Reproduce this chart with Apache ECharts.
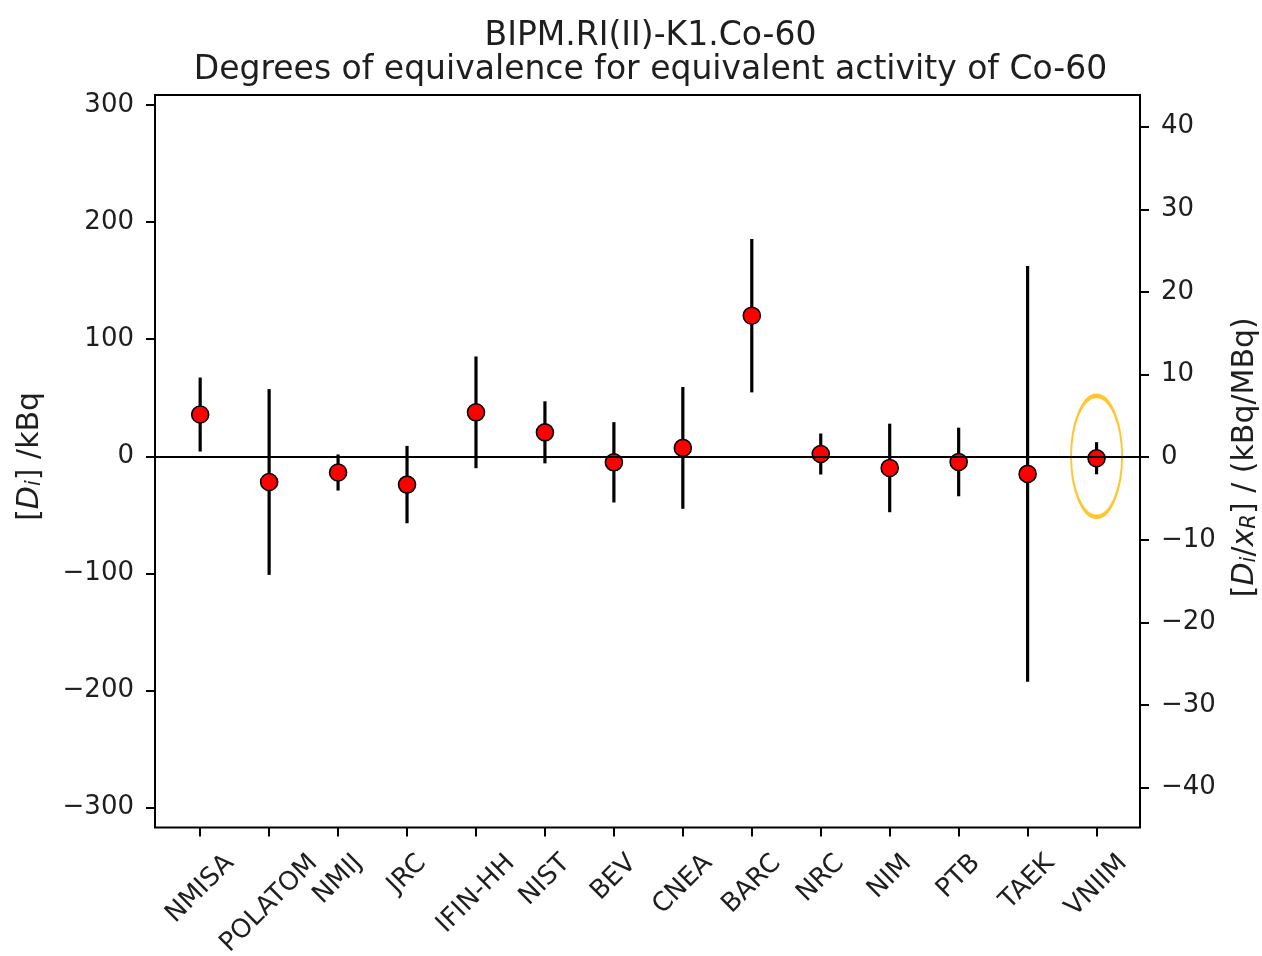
<!DOCTYPE html>
<html>
<head>
<meta charset="utf-8">
<script src="https://cdn.jsdelivr.net/npm/echarts@6/dist/echarts.min.js"></script>
<style>
  html, body { margin: 0; padding: 0; background: #fff; }
  #chart { width: 1262px; height: 956px; }
</style>
</head>
<body>
<div id="chart"></div>
<script>
// labs and their degrees of equivalence (kBq) with expanded uncertainty
const labs = ['NMISA', 'POLATOM', 'NMIJ', 'JRC', 'IFIN-HH', 'NIST', 'BEV', 'CNEA', 'BARC', 'NRC', 'NIM', 'PTB', 'TAEK', 'VNIIM'];
const di = [35.7, -21.9, -13.8, -24.1, 37.6, 20.5, -5.1, 7.2, 120.1, 2.0, -9.9, -4.8, -15.0, -1.6];
const ui = [31.6, 79.3, 15.4, 33.0, 47.7, 26.5, 34.3, 52.0, 65.5, 17.5, 37.8, 29.3, 177.5, 13.7];
const circled = [[13, 0]]; // VNIIM highlight
const leftRange = [-300, 300, 100];  // kBq ticks
const rightRange = [-40, 40, 10];    // kBq/MBq ticks

const FONT = 'DejaVu Sans';
const TXT = '#1e1e1e';
const W = 1262, H = 956;
// axes frame in pixels
const fL = 155, fR = 1140, fT = 95, fB = 827.5;
const xMin = -0.655, xMax = labs.length - 1 + 0.63;
const step = (fR - fL) / (xMax - xMin);

const minus = v => (v < 0 ? '\u2212' + Math.abs(v) : String(v));

// rotated category labels centred under their tick (matplotlib style)
const LAB_FS = 26;
const ctx = document.createElement('canvas').getContext('2d');
ctx.font = LAB_FS + 'px "' + FONT + '"';
const labRich = {};
labs.forEach((s, i) => {
  const a = (ctx.measureText(s).width + LAB_FS * 1.16) / 4;
  labRich['c' + i] = { fontSize: LAB_FS, fontFamily: FONT, color: TXT, padding: [2 * a, 2 * a, 0, 0] };
});

const tickStyle = { color: '#000', width: 2 };
const nameRich = {
  it: { fontStyle: 'italic', fontSize: 30, fontFamily: FONT, color: TXT },
  sub: { fontStyle: 'italic', fontSize: 21, fontFamily: FONT, color: TXT, verticalAlign: 'bottom', padding: [8, 0, 0, 0] }
};
const gridBase = { left: fL, right: W - fR, outerBoundsMode: 'none', containLabel: false };

const chart = echarts.init(document.getElementById('chart'));
const option = {
  animation: false,
  backgroundColor: '#fff',
  title: {
    text: 'BIPM.RI(II)-K1.Co-60\nDegrees of equivalence for equivalent activity of Co-60',
    left: (fL + fR) / 2 - 2,
    top: 14,
    textAlign: 'center',
    textStyle: { fontSize: 33, fontWeight: 'normal', fontFamily: FONT, color: TXT, lineHeight: 34 }
  },
  grid: [
    // frame
    Object.assign({}, gridBase, { top: fT, bottom: H - fB, show: true, borderColor: '#000', borderWidth: 2, backgroundColor: 'transparent' }),
    // data + left axis
    Object.assign({}, gridBase, { top: 105, bottom: H - 807.7 }),
    // right axis
    Object.assign({}, gridBase, { top: 126.7, bottom: H - 787.7 }),
    // category labels
    Object.assign({}, gridBase, {
      left: fL + (-0.5 - xMin) * step,
      right: W - (fR - (xMax - (labs.length - 0.5)) * step),
      top: fT, bottom: H - fB
    })
  ],
  xAxis: [
    { gridIndex: 0, type: 'value', show: false, min: 0, max: 1 },
    { gridIndex: 1, type: 'value', show: false, min: xMin, max: xMax },
    { gridIndex: 2, type: 'value', show: false, min: 0, max: 1 },
    {
      gridIndex: 3, type: 'category', data: labs, position: 'bottom', boundaryGap: true,
      axisLine: { show: false, onZero: false },
      axisTick: { show: true, inside: false, length: 9, alignWithLabel: true, interval: 0, lineStyle: tickStyle },
      splitLine: { show: false },
      axisLabel: {
        interval: 0, rotate: 45, margin: 21, align: 'center', verticalAlign: 'middle',
        formatter: (v, i) => '{c' + i + '|' + v + '}',
        rich: labRich
      }
    }
  ],
  yAxis: [
    { gridIndex: 0, type: 'value', show: false, min: 0, max: 1 },
    {
      gridIndex: 1, type: 'value', position: 'left',
      min: leftRange[0], max: leftRange[1], interval: leftRange[2],
      axisLine: { show: false, onZero: false },
      axisTick: { show: true, inside: false, length: 9, lineStyle: tickStyle },
      splitLine: { show: false },
      axisLabel: { margin: 21, fontSize: 26, fontFamily: FONT, color: TXT, formatter: minus },
      name: '[{it|D}{sub|i}] /kBq',
      nameLocation: 'middle', nameRotate: 90, nameGap: 110,
      nameTextStyle: { fontSize: 30, fontFamily: FONT, color: TXT, rich: nameRich }
    },
    {
      gridIndex: 2, type: 'value', position: 'right',
      min: rightRange[0], max: rightRange[1], interval: rightRange[2],
      axisLine: { show: false, onZero: false },
      axisTick: { show: true, inside: false, length: 9, lineStyle: tickStyle },
      splitLine: { show: false },
      axisLabel: { margin: 21, fontSize: 26, fontFamily: FONT, color: TXT, formatter: minus },
      name: '[{it|D}{sub|i}/{it|x}{sub|R}] / (kBq/MBq)',
      nameLocation: 'middle', nameRotate: 90, nameGap: 90,
      nameTextStyle: { fontSize: 30, fontFamily: FONT, color: TXT, rich: nameRich }
    },
    { gridIndex: 3, type: 'value', show: false, min: 0, max: 1 }
  ],
  series: [
    {
      // highlight ellipse + zero line
      type: 'scatter', xAxisIndex: 1, yAxisIndex: 1, z: 1, silent: true,
      data: circled,
      symbol: 'circle', symbolSize: [51, 121],
      itemStyle: { color: 'rgba(0,0,0,0)', borderColor: '#ffb800', borderWidth: 3 },
      markLine: {
        silent: true, symbol: 'none', label: { show: false },
        lineStyle: { color: '#000', width: 2, type: 'solid' },
        data: [{ yAxis: 0 }]
      }
    },
    {
      // error bars
      type: 'custom', xAxisIndex: 1, yAxisIndex: 1, z: 2,
      data: labs.map((_, i) => [i, di[i], ui[i]]),
      encode: { x: 0, y: 1 },
      renderItem: (params, api) => {
        const x = api.value(0), v = api.value(1), u = api.value(2);
        const p1 = api.coord([x, v + u]);
        const p2 = api.coord([x, v - u]);
        return {
          type: 'line',
          shape: { x1: p1[0], y1: p1[1], x2: p2[0], y2: p2[1] },
          style: { stroke: '#000', lineWidth: 3.2 }
        };
      }
    },
    {
      type: 'scatter', xAxisIndex: 1, yAxisIndex: 1, z: 3,
      data: labs.map((_, i) => [i, di[i]]),
      symbol: 'circle', symbolSize: 17,
      itemStyle: { color: '#ff0000', borderColor: '#000', borderWidth: 1.6, opacity: 1 }
    }
  ]
};
chart.setOption(option);
</script>
</body>
</html>
